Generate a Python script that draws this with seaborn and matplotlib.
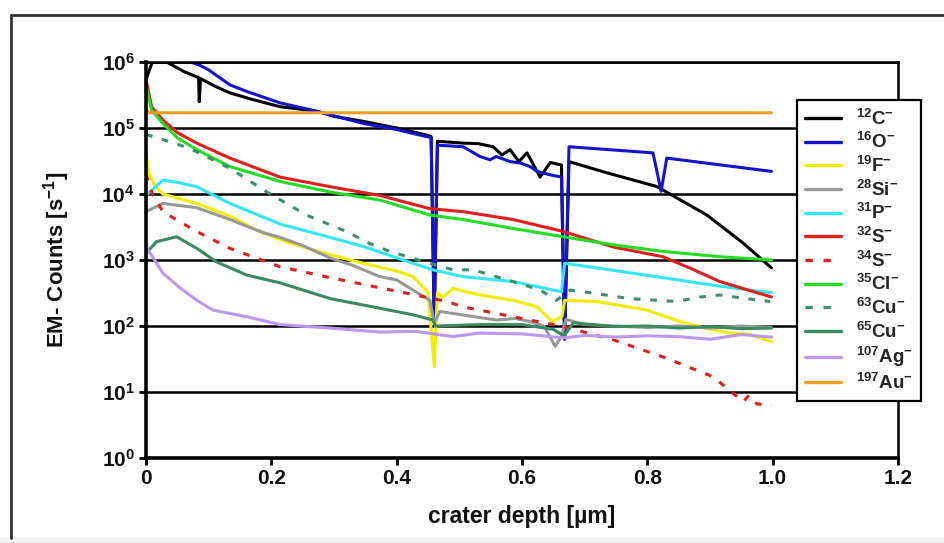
import numpy as np
import pandas as pd
import matplotlib
matplotlib.use("Agg")
import matplotlib.pyplot as plt
import seaborn as sns
from matplotlib.lines import Line2D
from matplotlib.patches import Rectangle
from matplotlib.ticker import FixedLocator, FuncFormatter, NullLocator

# ---------------- data ----------------
C12_x = [0.0, 0.01, 0.033, 0.06, 0.084, 0.085, 0.087, 0.11, 0.134, 0.17, 0.214, 0.272, 0.30, 0.347,
         0.40, 0.448, 0.455, 0.460, 0.465, 0.506, 0.53, 0.554, 0.568, 0.581, 0.595, 0.608, 0.629,
         0.645, 0.663, 0.668, 0.675, 0.735, 0.815, 0.895, 0.953, 0.998]
C12_y = [5.4e5, 1.0e6, 1.0e6, 7.2e5, 5.8e5, 2.5e5, 5.6e5, 4.3e5, 3.4e5, 2.7e5, 2.1e5, 1.8e5, 1.5e5,
         1.26e5, 1.0e5, 7.8e4, 7.4e4, 1.1e2, 6.3e4, 5.9e4, 5.8e4, 5.2e4, 3.9e4, 4.7e4, 3.1e4, 4.2e4,
         1.8e4, 3.0e4, 2.75e4, 6.3e1, 3.1e4, 2.1e4, 1.3e4, 4.8e3, 1.8e3, 7.6e2]

O16_x = [0.065, 0.086, 0.10, 0.134, 0.16, 0.214, 0.272, 0.347, 0.40, 0.437, 0.455, 0.460, 0.465,
         0.506, 0.533, 0.549, 0.559, 0.581, 0.597, 0.613, 0.624, 0.645, 0.663, 0.668, 0.675, 0.809,
         0.822, 0.831, 0.998]
O16_y = [1.05e6, 8.9e5, 7.6e5, 4.5e5, 3.6e5, 2.4e5, 1.8e5, 1.17e5, 9.5e4, 7.8e4, 7.2e4, 1.2e2, 5.5e4,
         5.2e4, 3.7e4, 3.3e4, 3.7e4, 3.1e4, 2.95e4, 2.6e4, 2.2e4, 1.95e4, 1.8e4, 6.3e1, 5.2e4, 4.2e4,
         1.1e4, 3.5e4, 2.2e4]

F19_x = [0.0, 0.005, 0.015, 0.027, 0.081, 0.134, 0.177, 0.23, 0.294, 0.347, 0.40, 0.426, 0.45, 0.460,
         0.465, 0.474, 0.49, 0.533, 0.586, 0.624, 0.648, 0.664, 0.668, 0.719, 0.799, 0.852, 0.90,
         0.932, 0.96, 0.998]
F19_y = [4.0e4, 2.0e4, 1.26e4, 1.0e4, 7.2e3, 4.6e3, 2.8e3, 1.8e3, 1.2e3, 8.9e2, 6.8e2, 5.6e2, 3.2e2,
         2.4e1, 3.2e2, 2.75e2, 3.7e2, 2.95e2, 2.45e2, 1.95e2, 1.17e2, 1.4e2, 2.45e2, 2.35e2, 1.75e2,
         1.17e2, 8.9e1, 7.8e1, 7.6e1, 5.8e1]

Si28_x = [0.0, 0.027, 0.081, 0.134, 0.187, 0.214, 0.25, 0.294, 0.33, 0.373, 0.40, 0.426, 0.453, 0.460,
          0.469, 0.49, 0.52, 0.56, 0.59, 0.613, 0.635, 0.653, 0.663, 0.670, 0.70, 0.75, 0.80, 0.85,
          0.90, 0.95, 0.998]
Si28_y = [5.4e3, 7.2e3, 6.2e3, 4.1e3, 2.6e3, 2.2e3, 1.66e3, 1.07e3, 8.3e2, 5.6e2, 5.0e2, 3.5e2, 2.45e2,
          1.1e2, 1.66e2, 1.55e2, 1.4e2, 1.23e2, 1.3e2, 1.17e2, 1.0e2, 4.9e1, 6.9e1, 1.26e2, 1.05e2,
          1.0e2, 9.5e1, 1.0e2, 9.3e1, 1.0e2, 9.5e1]

P31_x = [0.0, 0.027, 0.05, 0.081, 0.134, 0.214, 0.294, 0.347, 0.426, 0.458, 0.506, 0.586, 0.663,
         0.668, 0.719, 0.825, 0.916, 0.998]
P31_y = [9.5e3, 1.62e4, 1.5e4, 1.29e4, 7.2e3, 3.5e3, 2.2e3, 1.6e3, 8.9e2, 7.1e2, 5.6e2, 4.7e2, 3.3e2,
         8.9e2, 7.6e2, 5.4e2, 4.0e2, 3.2e2]

S32_x = [0.0, 0.009, 0.027, 0.05, 0.081, 0.134, 0.214, 0.294, 0.373, 0.453, 0.506, 0.586, 0.666,
         0.745, 0.825, 0.87, 0.916, 0.998]
S32_y = [5.4e5, 2.1e5, 1.32e5, 8.5e4, 5.9e4, 3.5e4, 1.8e4, 1.29e4, 9.5e3, 6.0e3, 5.4e3, 4.1e3, 2.7e3,
         1.58e3, 1.12e3, 7.4e2, 4.7e2, 2.75e2]

S34_x = [0.0, 0.01, 0.027, 0.054, 0.081, 0.134, 0.214, 0.294, 0.373, 0.426, 0.48, 0.506, 0.586, 0.666,
         0.745, 0.825, 0.905, 0.953, 0.962, 0.975, 0.998]
S34_y = [2.0e4, 1.0e4, 5.4e3, 3.8e3, 2.7e3, 1.5e3, 7.9e2, 5.4e2, 3.8e2, 3.0e2, 2.35e2, 1.95e2, 1.38e2,
         9.8e1, 6.2e1, 3.4e1, 1.7e1, 7.1, 8.9, 6.6, 6.3]

Cl35_x = [0.0, 0.009, 0.027, 0.05, 0.081, 0.134, 0.214, 0.294, 0.373, 0.453, 0.506, 0.586, 0.666,
          0.745, 0.825, 0.916, 0.998]
Cl35_y = [4.3e5, 1.86e5, 1.17e5, 7.1e4, 4.7e4, 2.6e4, 1.55e4, 1.07e4, 8.1e3, 4.8e3, 4.1e3, 3.0e3,
          2.25e3, 1.7e3, 1.35e3, 1.12e3, 1.0e3]

Cu63_x = [0.0, 0.038, 0.07, 0.134, 0.193, 0.256, 0.32, 0.357, 0.389, 0.453, 0.49, 0.522, 0.586, 0.629,
          0.655, 0.677, 0.708, 0.772, 0.847, 0.884, 0.916, 0.958, 0.996]
Cu63_y = [8.0e4, 6.2e4, 4.9e4, 2.45e4, 1.07e4, 4.8e3, 2.7e3, 1.78e3, 1.35e3, 8.9e2, 7.1e2, 7.1e2, 4.7e2,
          3.5e2, 2.45e2, 3.5e2, 3.2e2, 2.6e2, 2.35e2, 2.75e2, 2.95e2, 2.6e2, 2.35e2]

Cu65_x = [0.0, 0.017, 0.049, 0.081, 0.113, 0.161, 0.214, 0.294, 0.373, 0.426, 0.458, 0.462, 0.533,
          0.60, 0.650, 0.667, 0.682, 0.745, 0.80, 0.85, 0.90, 0.95, 0.998]
Cu65_y = [1.26e3, 1.9e3, 2.25e3, 1.5e3, 9.3e2, 5.9e2, 4.5e2, 2.6e2, 1.86e2, 1.48e2, 1.23e2, 1.0e2,
          1.05e2, 1.05e2, 8.9e1, 7.1e1, 1.12e2, 9.8e1, 1.0e2, 9.3e1, 9.8e1, 9.1e1, 9.3e1]

Ag107_x = [0.0, 0.027, 0.054, 0.081, 0.107, 0.161, 0.214, 0.294, 0.373, 0.43, 0.49, 0.53, 0.60, 0.666,
           0.70, 0.75, 0.80, 0.85, 0.90, 0.95, 0.998]
Ag107_y = [1.6e3, 6.3e2, 3.8e2, 2.45e2, 1.74e2, 1.38e2, 1.05e2, 9.3e1, 8.1e1, 8.3e1, 6.9e1, 7.8e1,
           7.6e1, 6.6e1, 7.2e1, 6.8e1, 7.1e1, 6.9e1, 6.3e1, 7.4e1, 6.8e1]

Au197_x = [0.0, 0.005, 0.998]
Au197_y = [1.9e5, 1.7e5, 1.7e5]

labels = [r"$^{12}$C$^{-}$", r"$^{16}$O$^{-}$", r"$^{19}$F$^{-}$", r"$^{28}$Si$^{-}$",
          r"$^{31}$P$^{-}$", r"$^{32}$S$^{-}$", r"$^{34}$S$^{-}$", r"$^{35}$Cl$^{-}$",
          r"$^{63}$Cu$^{-}$", r"$^{65}$Cu$^{-}$", r"$^{107}$Ag$^{-}$", r"$^{197}$Au$^{-}$"]
xs = [C12_x, O16_x, F19_x, Si28_x, P31_x, S32_x, S34_x, Cl35_x, Cu63_x, Cu65_x, Ag107_x, Au197_x]
ys = [C12_y, O16_y, F19_y, Si28_y, P31_y, S32_y, S34_y, Cl35_y, Cu63_y, Cu65_y, Ag107_y, Au197_y]
colors = ["#000000", "#1414cc", "#f2ec00", "#999999", "#33e6f2", "#e01e1e", "#e01e1e",
          "#22dd22", "#3d8f6e", "#3a8a62", "#bb99ee", "#f0a028"]
dashed = [False, False, False, False, False, False, True, False, True, False, False, False]

x_ticks = [0.0, 0.2, 0.4, 0.6, 0.8, 1.0, 1.2]
x_ticklabels = ["0", "0.2", "0.4", "0.6", "0.8", "1.0", "1.2"]
y_ticks = [1e0, 1e1, 1e2, 1e3, 1e4, 1e5, 1e6]

# ---------------- style ----------------
sns.set_theme(style="white")
plt.rcParams["font.family"] = ["Liberation Sans", "DejaVu Sans"]
plt.rcParams["font.weight"] = "bold"
plt.rcParams["mathtext.fontset"] = "custom"
plt.rcParams["mathtext.rm"] = "Liberation Sans:bold"
plt.rcParams["mathtext.bf"] = "Liberation Sans:bold"
plt.rcParams["mathtext.it"] = "Liberation Sans:bold"
plt.rcParams["mathtext.default"] = "bf"

fig = plt.figure(figsize=(9.44, 5.43), dpi=100)
fig.patch.set_facecolor("white")
ax = fig.add_axes([146 / 944, 1 - 458 / 543, 752 / 944, 396 / 543])

for lab, x, y, c, d in zip(labels, xs, ys, colors, dashed):
    df = pd.DataFrame({"depth": x, "counts": y})
    kw = {}
    if d:
        kw["linestyle"] = (0, (2.2, 3.2))
    sns.lineplot(data=df, x="depth", y="counts", ax=ax, color=c, lw=2.2, label=lab,
                 estimator=None, sort=False, **kw)

ax.set_yscale("log")
ax.set_xlim(0, 1.2)
ax.set_ylim(1, 1e6)
ax.xaxis.set_major_locator(FixedLocator(x_ticks))
ax.set_xticklabels(x_ticklabels)
ax.yaxis.set_major_locator(FixedLocator(y_ticks))
ax.yaxis.set_minor_locator(NullLocator())
ax.yaxis.set_major_formatter(FuncFormatter(lambda v, p: r"$10^{%d}$" % int(round(np.log10(v)))))

ax.grid(False)
ax.yaxis.grid(True, which="major", color="black", lw=1.8)
ax.set_axisbelow(True)

ax.tick_params(axis="both", which="major", direction="out", length=5, width=2, color="black",
               labelsize=15, labelcolor="#111111", pad=3, left=True, bottom=True)
for t in ax.get_xticklabels() + ax.get_yticklabels():
    t.set_fontweight("bold")

for side in ["left", "bottom"]:
    ax.spines[side].set_color("black")
    ax.spines[side].set_linewidth(2.6)
for side in ["top", "right"]:
    ax.spines[side].set_color("black")
    ax.spines[side].set_linewidth(1.8)

ax.set_xlabel("crater depth [µm]", fontsize=16.5, fontweight="bold", color="#111111")
ax.set_ylabel(r"EM- Counts [s$^{-1}$]", fontsize=16, fontweight="bold", color="#111111")
ax.xaxis.set_label_coords(0.5, -(505 - 458) / 396)
ax.yaxis.set_label_coords(-(146 - 72) / 752, 0.5)

leg = ax.legend(loc="upper left", bbox_to_anchor=(797 / 944, 1 - 100 / 543),
                bbox_transform=fig.transFigure, frameon=True, fancybox=False, edgecolor="black",
                framealpha=1, facecolor="white", fontsize=13.5, handlelength=1.9,
                labelspacing=0.19, borderpad=0.45, handletextpad=0.8, borderaxespad=0)
leg.get_frame().set_linewidth(1.6)
for line in leg.get_lines():
    line.set_linewidth(2.4)
for t in leg.get_texts():
    t.set_fontweight("bold")
leg.set_zorder(10)

# outer frame of the original figure (cropped on the right/bottom)
fig.add_artist(Line2D([11 / 944, 11 / 944], [5 / 543, 1 - 15 / 543], transform=fig.transFigure,
                      color="#333333", lw=2))
fig.add_artist(Line2D([11 / 944, 1.0], [1 - 15 / 543, 1 - 15 / 543], transform=fig.transFigure,
                      color="#333333", lw=2))
fig.add_artist(Rectangle((0, 0), 1, 6 / 543, transform=fig.transFigure, color="#f3f3f3", lw=0))

fig.savefig("out.png", dpi=100)
